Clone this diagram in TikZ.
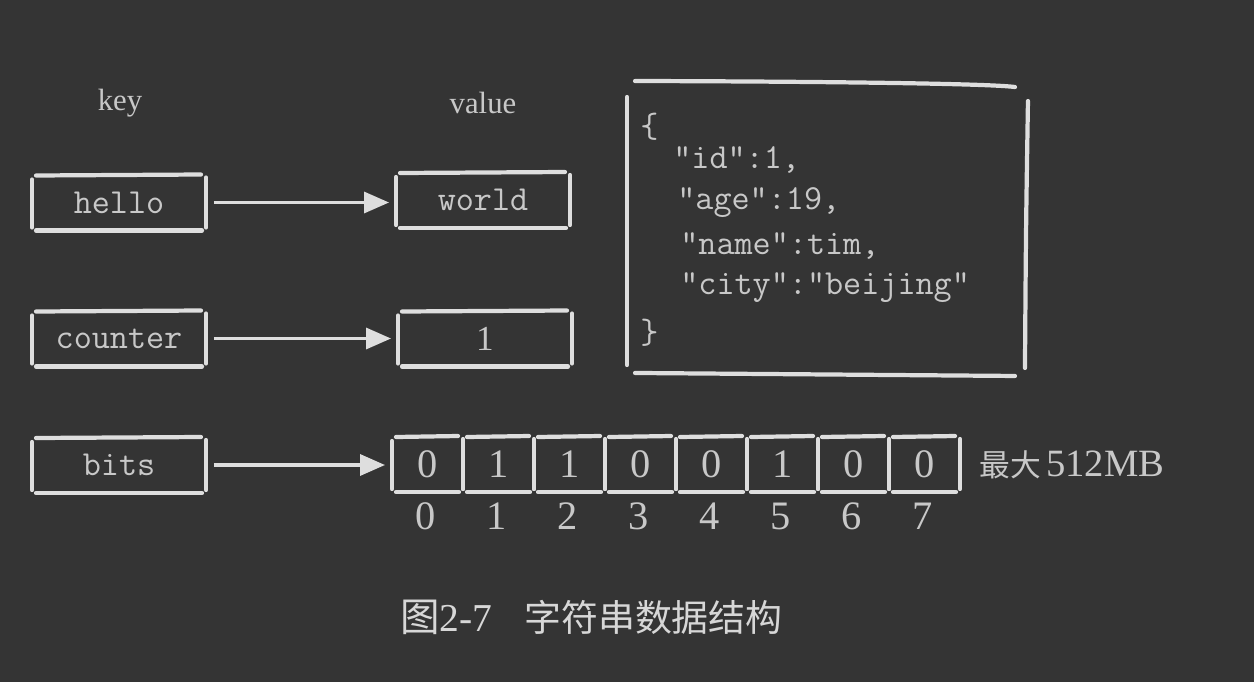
\documentclass[tikz,border=0pt]{standalone}
\usepackage{fontspec}
\setmainfont{Liberation Serif}
\newfontfamily\cjk{Noto Sans CJK SC}
\usetikzlibrary{arrows.meta}
\definecolor{bgc}{RGB}{52,52,52}
\definecolor{linec}{RGB}{222,222,222}
\definecolor{txtc}{RGB}{200,200,200}
\definecolor{capc}{RGB}{215,215,215}
\newcommand\skbox[1]{%
  \draw[skline] ([shift={(4,1)}]#1.north west) -- ([shift={(-5,0)}]#1.north east);
  \draw[skline] ([shift={(4,0)}]#1.south west) -- ([shift={(-4,0)}]#1.south east);
  \draw[skline] ([shift={(0,5)}]#1.north west) -- ([shift={(0,-3)}]#1.south west);
  \draw[skline] ([shift={(0,3)}]#1.north east) -- ([shift={(0,-3)}]#1.south east);
}
\tikzset{
  skline/.style={draw=linec, line width=2.4pt, line cap=round},
  kbox/.style={inner sep=0pt, outer sep=0pt, minimum width=3.48cm, minimum height=1.12cm,
    text=txtc, font=\ttfamily\fontsize{20}{24}\selectfont},
  bitcell/.style={inner sep=0pt, outer sep=0pt, minimum width=1.42cm, minimum height=1.12cm,
    text=txtc, font=\fontsize{23}{26}\selectfont},
  idx/.style={inner sep=0pt, text=txtc, font=\fontsize{23}{26}\selectfont},
  head/.style={inner sep=0pt, text=txtc, font=\fontsize{17.5}{20}\selectfont},
  jtxt/.style={inner sep=0pt, anchor=west, text=txtc, font=\ttfamily\fontsize{20}{24}\selectfont},
  arr/.style={draw=linec, line width=1.9pt, -{Triangle[length=0.5cm,width=0.42cm]},
    shorten <=0.16cm, shorten >=0.14cm},
}
\begin{document}
\begin{tikzpicture}[x=0.02cm,y=-0.02cm]
\fill[bgc] (0,0) rectangle (1254,682);
\useasboundingbox (0,0) rectangle (1254,682);

\node[head] (keyh) at (120,103) {key};
\node[head] (valh) at (483,103) {value};

\node[kbox] (hello) at (119,202.5) {hello};
\node[kbox] (world) at (483,200) {world};
\node[kbox] (counter) at (119,338.5) {counter};
\node[kbox] (one) at (485,338.5) {\rmfamily 1};
\node[kbox] (bits) at (119,465) {bits};
\skbox{hello}\skbox{world}\skbox{counter}\skbox{one}\skbox{bits}

\draw[arr] (hello.east) -- (hello.east -| world.west);
\draw[arr] (counter.east) -- (counter.east -| one.west);

\foreach \v [count=\i from 0] in {0,1,1,0,0,1,0,0} {
  \node[bitcell] (c\i) at ({427.5+71*\i},464) {\v};
  \skbox{c\i}
  \node[idx] (i\i) at ({426+71*\i},516) {\i};
}
\draw[arr] (bits.east) -- (bits.east -| c0.west);

\node[inner sep=0pt, anchor=west, text=txtc] (max) at (979,465)
  {{\cjk\fontsize{17.5}{22}\selectfont 最大}\hspace{0.3em}{\fontsize{22}{26}\selectfont 512MB}};

% JSON box
\node[inner sep=0pt, outer sep=0pt, minimum width=8.02cm, minimum height=5.92cm] (json) at (827.5,227) {};
\draw[skline] ([shift={(8,2)}]json.north west) .. controls ([shift={(-150,2)}]json.north) and ([shift={(150,3)}]json.north) .. ([shift={(-13,8)}]json.north east);
\draw[skline] ([shift={(0,18)}]json.north west) -- ([shift={(0,-10)}]json.south west);
\draw[skline] ([shift={(0,22)}]json.north east) .. controls ([shift={(-2,0)}]json.east) .. ([shift={(-3,-7)}]json.south east);
\draw[skline] ([shift={(8,-2)}]json.south west) -- ([shift={(-13,1)}]json.south east);

\node[jtxt] (j1) at (640,127) {\{};
\node[jtxt] (j2) at (673,160) {"id":1,};
\node[jtxt] (j3) at (677,203) {"age":19,};
\node[jtxt] (j4) at (680,246) {"name":tim,};
\node[jtxt] (j5) at (680,288) {"city":"beijing"};
\node[jtxt] (j6) at (640,333) {\}};

% caption
\node[inner sep=0pt, anchor=west, text=capc, font=\fontsize{22.5}{26}\selectfont] (cap1) at (400,617) {{\cjk 图}2-7};
\node[inner sep=0pt, anchor=west, text=capc, font=\cjk\fontsize{21}{26}\selectfont] (cap2) at (524,617) {字符串数据结构};
\end{tikzpicture}
\end{document}
